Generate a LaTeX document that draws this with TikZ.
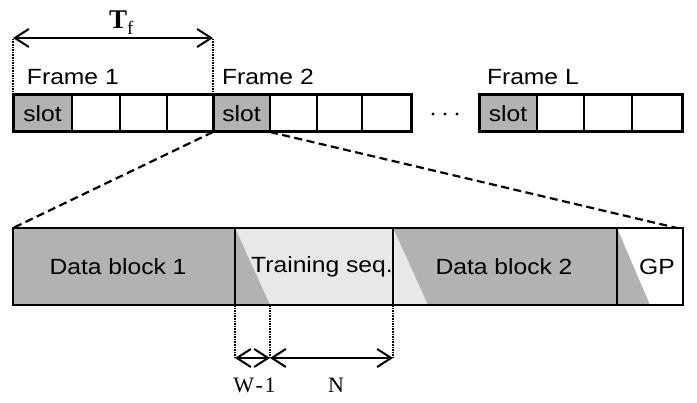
\documentclass[tikz,border=0pt]{standalone}
\usepackage{fontspec}
\setmainfont{Liberation Sans}[FakeStretch=1.12]
\newfontfamily\serifface{Liberation Serif}
\usetikzlibrary{arrows.meta,calc}
\definecolor{darkfill}{HTML}{B2B2B2}
\definecolor{lightfill}{HTML}{E8E8E8}

\begin{document}
\begin{tikzpicture}[x=1pt,y=-1pt,
  every node/.style={inner sep=0pt, outer sep=0pt},
  sans/.style={font=\fontsize{22}{26}\selectfont},
  cell/.style={draw, line width=1.7pt, minimum height=37pt, anchor=north west, sans},
  slotcell/.style={cell, fill=darkfill},
  block/.style={minimum height=77pt, anchor=north west},
  frameline/.style={line width=3pt},
  zoomline/.style={line width=2.2pt, dash pattern=on 8pt off 4.5pt},
  guide/.style={line width=1.6pt, densely dotted},
  span/.style={line width=2pt, {Straight Barb[length=14pt,width=18pt]}-{Straight Barb[length=14pt,width=18pt]}},
  serif/.style={font=\serifface\fontsize{22}{26}\selectfont}
]
\useasboundingbox (0,0) rectangle (697,403);

% ---- top row: frames made of slots ----
\node[slotcell, minimum width=59pt] (a1) at (13,95) {slot};
\node[cell, minimum width=48pt] (a2) at (a1.north east) {};
\node[cell, minimum width=47pt] (a3) at (a2.north east) {};
\node[cell, minimum width=46pt] (a4) at (a3.north east) {};

\node[slotcell, minimum width=57pt] (b1) at (a4.north east) {slot};
\node[cell, minimum width=47pt] (b2) at (b1.north east) {};
\node[cell, minimum width=45pt] (b3) at (b2.north east) {};
\node[cell, minimum width=49pt] (b4) at (b3.north east) {};

\node[slotcell, minimum width=58pt] (c1) at (479,95) {slot};
\node[cell, minimum width=47pt] (c2) at (c1.north east) {};
\node[cell, minimum width=48pt] (c3) at (c2.north east) {};
\node[cell, minimum width=50pt] (c4) at (c3.north east) {};

\draw[frameline] (a1.north west) rectangle (a4.south east);
\draw[frameline] (b1.north west) rectangle (b4.south east);
\draw[frameline] (c1.north west) rectangle (c4.south east);

\node[sans, anchor=base west] (l1) at (27,85) {Frame 1};
\node[sans, anchor=base west] (l2) at (222,85) {Frame 2};
\node[sans, anchor=base west] (l3) at (487,85) {Frame L};

\foreach \dx in {433,445,457} \fill (\dx,114) circle (1.7pt);

% ---- frame duration ----
\coordinate (tfl) at ($(a1.north west)+(0,-57)$);
\coordinate (tfr) at ($(a4.north east)+(0,-57)$);
\draw[guide] (a1.north west) -- (tfl);
\draw[guide] (a4.north east) -- (tfr);
\draw[span] (tfl) -- (tfr);
\node[anchor=base west] (tf) at (109,29) {\serifface\fontsize{27}{30}\selectfont\bfseries T\raisebox{-6pt}{\mdseries\fontsize{19}{21}\selectfont f}};

% ---- bottom row: structure of one slot ----
\node[block, fill=darkfill, minimum width=222pt] (d1) at (13,228) {};
\node[block, fill=lightfill, minimum width=158pt] (ts) at (d1.north east) {};
\node[block, fill=darkfill, minimum width=224pt] (d2) at (ts.north east) {};
\node[block, fill=white, minimum width=66pt] (gp) at (d2.north east) {};

\fill[darkfill] (ts.north west) -- (ts.south west) -- ($(ts.south west)+(35,0)$) -- cycle;
\fill[lightfill] (d2.north west) -- (d2.south west) -- ($(d2.south west)+(35,0)$) -- cycle;
\fill[darkfill] (gp.north west) -- (gp.south west) -- ($(gp.south west)+(33,0)$) -- cycle;

\draw[line width=2.4pt] (d1.north west) rectangle (gp.south east);
\draw[line width=1.8pt] (d1.north east) -- (d1.south east);
\draw[line width=1.8pt] (ts.north east) -- (ts.south east);
\draw[line width=1.8pt] (d2.north east) -- (d2.south east);

\node[sans] (t1) at (118,267) {Data block 1};
\node[sans] (t2) at (322,267) {Training seq.};
\node[sans] (t3) at (504,267) {Data block 2};
\node[sans] (t4) at (657,267) {GP};

% ---- zoom lines from the slot of frame 2 ----
\draw[zoomline] (b1.south west) -- (d1.north west);
\draw[zoomline] (b1.south east) -- ($(gp.north east)+(-6,0)$);

% ---- window and training lengths ----
\coordinate (w0) at ($(ts.south west)+(0,53)$);
\coordinate (w1) at ($(ts.south west)+(35,53)$);
\coordinate (w2) at ($(ts.south east)+(0,53)$);
\draw[guide] (ts.south west) -- (w0);
\draw[guide] ($(ts.south west)+(35,0)$) -- (w1);
\draw[guide] (ts.south east) -- (w2);
\draw[span] (w0) -- (w1);
\draw[span] (w1) -- (w2);
\node[serif, anchor=base] (wl) at (254.5,393) {W\kern1.5pt-\kern1.5pt1};
\node[serif, anchor=base] (nl) at (336,393) {N};
\end{tikzpicture}
\end{document}
